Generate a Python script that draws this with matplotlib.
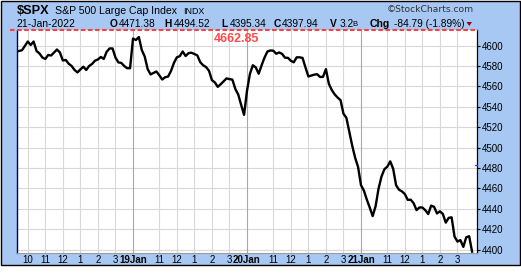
import matplotlib
matplotlib.use('Agg')
import matplotlib.pyplot as plt
from matplotlib.lines import Line2D
from matplotlib.patches import Rectangle, Polygon

plt.rcParams['font.family'] = ['Liberation Sans', 'DejaVu Sans']

# ---------------- data (10-minute closes) ----------------
day_names = ['18Jan', '19Jan', '20Jan', '21Jan']
hour_labels = ['10', '11', '12', '1', '2', '3']
hour_offsets = [0.5, 1.5, 2.5, 3.5, 4.5, 5.5]   # hours after 9:30 open
y_ticks = [4400, 4420, 4440, 4460, 4480, 4500, 4520, 4540, 4560, 4580, 4600]
prev_high = 4662.85
prev_close = 4482.73

jan18 = [4594.8, 4595.5, 4599.7, 4604.1, 4600.7, 4604.1, 4594.8, 4592.4, 4588.4, 4587.0,
         4590.9, 4590.4, 4593.3, 4596.3, 4593.3, 4585.5, 4586.0, 4582.3, 4580.1, 4576.2,
         4573.8, 4576.7, 4579.4, 4576.2, 4580.1, 4582.1, 4585.3, 4586.5, 4588.9, 4587.0,
         4594.1, 4597.3, 4597.3, 4588.4, 4583.6, 4583.1, 4580.1, 4577.9, 4577.9]
jan19 = [4607.0, 4605.6, 4608.5, 4595.8, 4589.4, 4577.2, 4571.8, 4573.3, 4574.7, 4571.0,
         4566.8, 4569.1, 4569.7, 4575.2, 4583.1, 4588.6, 4589.7, 4594.3, 4589.9, 4592.7,
         4593.1, 4591.9, 4590.5, 4583.8, 4580.8, 4579.0, 4575.4, 4566.2, 4564.0, 4559.6,
         4562.2, 4565.1, 4567.9, 4567.2, 4566.7, 4557.6, 4552.1, 4541.9, 4532.2]
jan20 = [4555.7, 4572.3, 4580.8, 4578.7, 4572.5, 4580.8, 4588.4, 4594.3, 4595.3, 4595.1,
         4592.1, 4593.4, 4592.0, 4588.2, 4588.1, 4585.2, 4583.7, 4588.6, 4588.6, 4588.0,
         4578.7, 4569.8, 4570.7, 4571.6, 4572.0, 4569.3, 4569.4, 4577.0, 4562.7, 4556.5,
         4552.2, 4549.1, 4546.6, 4533.3, 4529.2, 4515.5, 4501.8, 4490.0, 4481.0]
jan21 = [4463.1, 4457.8, 4448.9, 4441.1, 4432.8, 4442.6, 4459.7, 4471.5, 4478.8, 4481.3,
         4486.5, 4479.3, 4463.1, 4458.7, 4457.1, 4454.4, 4448.7, 4448.9, 4445.5, 4438.7,
         4441.3, 4441.2, 4438.6, 4434.8, 4443.1, 4441.9, 4435.4, 4437.5, 4434.9, 4426.4,
         4431.1, 4431.6, 4412.7, 4407.8, 4409.3, 4402.6, 4412.0, 4413.1, 4397.94]
days = [jan18, jan19, jan20, jan21]
SESSION = 6.5  # trading hours per day

xs, ys = [], []
for d, vals in enumerate(days):
    for k, v in enumerate(vals):
        xs.append(d * SESSION + k / 6.0)
        ys.append(v)

# ---------------- figure ----------------
W, H = 521, 277
fig = plt.figure(figsize=(W / 100, H / 100), dpi=100)
fig.patch.set_facecolor('white')

def fx(px):
    return px / W

def fy(py):
    return 1 - py / H

BLUE = '#a6c8f2'
bg = Rectangle((fx(0.5), fy(265)), fx(520) - fx(0.5), fy(0.5) - fy(265),
               transform=fig.transFigure, facecolor=BLUE, edgecolor='black',
               lw=1, zorder=-10)
fig.add_artist(bg)

ax = fig.add_axes([fx(17), fy(253), fx(477) - fx(17), fy(30) - fy(253)])
ax.set_facecolor('white')
ax.set_xlim(-0.114, 4 * SESSION + 0.114)
ax.set_ylim(4396.6, 4615.4)

# hour positions: first day shows 10 o'clock, later days start at 11
xt, xl = [], []
for d in range(4):
    for h, lab in zip(hour_offsets, hour_labels):
        if d > 0 and lab == '10':
            continue
        xt.append(d * SESSION + h)
        xl.append(lab)

# grid
for yt in y_ticks:
    ax.axhline(yt, color='#d8d8d8', lw=0.8, zorder=1)
for x in xt:
    ax.axvline(x, color='#d8d8d8', lw=0.8, zorder=1)
for d in range(1, 4):
    ax.axvline(d * SESSION, color='#a8a8a8', lw=0.8, zorder=1)

ax.plot(xs, ys, color='black', lw=1.7, zorder=3, solid_joinstyle='round')

# spines
ax.spines['top'].set_visible(False)
ax.spines['left'].set_color('#000060')
ax.spines['left'].set_linewidth(1.0)
ax.spines['bottom'].set_color('#9a9a9a')
ax.spines['bottom'].set_linewidth(0.8)
ax.spines['right'].set_color('black')
ax.spines['right'].set_linewidth(0.9)
ax.spines['right'].set_linestyle((0, (1, 1)))

# y axis right
ax.yaxis.tick_right()
ax.set_yticks(y_ticks)
ax.set_yticklabels([str(v) for v in y_ticks])
ax.tick_params(axis='y', direction='out', length=2.5, width=0.8, pad=0.8,
               labelsize=7, colors='black')

# x axis labels
for d in range(1, 4):
    xt.append(d * SESSION)
    xl.append(day_names[d])
ax.set_xticks(xt)
ax.set_xticklabels(xl)
ax.tick_params(axis='x', length=0, pad=1.2, labelsize=7)
for t in ax.get_xticklabels():
    if 'Jan' in t.get_text():
        t.set_fontweight('bold')

# prior-close marker on right axis
ax.plot([4 * SESSION + 0.0, 4 * SESSION + 0.114], [prev_close, prev_close],
        color='#2040ff', lw=0.9, zorder=4, clip_on=False)

# red dashed prior high line (off-scale, pinned at top)
fig.add_artist(Line2D([fx(10), fx(478)], [fy(29.6), fy(29.6)], transform=fig.transFigure,
                      color='#ff4040', lw=1.5, dashes=(2.2, 1.2), zorder=5))
fig.text(fx(236), fy(39.5), f'{prev_high:.2f}', color='#ff4a4a', fontsize=9,
         fontweight='bold', ha='center', va='center')

# header line 1
fig.text(fx(17), fy(10.5), '$SPX', fontsize=9.2, fontweight='bold', va='center',
         parse_math=False)
fig.text(fx(55), fy(10.5), 'S&P 500 Large Cap Index', fontsize=7.6, va='center')
fig.text(fx(183), fy(11), 'INDX', fontsize=6.4, va='center')
fig.text(fx(473.5), fy(10), '\u00a9StockCharts.com', fontsize=6.6, va='center',
         ha='right', color='#333333', family='DejaVu Sans')

# header line 2
y2 = fy(24)
fig.text(fx(16.5), y2, '21-Jan-2022', fontsize=7.5, va='center')
parts = [('O', 109.3, '4471.38', 119.0), ('H', 164.3, '4494.52', 173.5),
         ('L', 221.0, '4395.34', 230.0), ('C', 273.3, '4397.94', 282.0),
         ('V', 330.0, '3.2', 339.5)]
for lab, lx, val, vx in parts:
    fig.text(fx(lx), y2, lab, fontsize=7.4, fontweight='bold', va='center')
    fig.text(fx(vx), y2, val, fontsize=7.3, va='center')
fig.text(fx(352.5), fy(24.5), 'B', fontsize=5.5, va='center')
fig.text(fx(370), y2, 'Chg', fontsize=7.6, fontweight='bold', va='center')
fig.text(fx(394.3), y2, '-84.79 (-1.89%)', fontsize=7.3, va='center')
fig.add_artist(Polygon([(fx(466.5), fy(22)), (fx(472), fy(22)), (fx(469.25), fy(26))],
                       closed=True, transform=fig.transFigure, facecolor='#a00020',
                       edgecolor='none', zorder=5))

fig.savefig('out.png', dpi=100, facecolor=fig.get_facecolor())
